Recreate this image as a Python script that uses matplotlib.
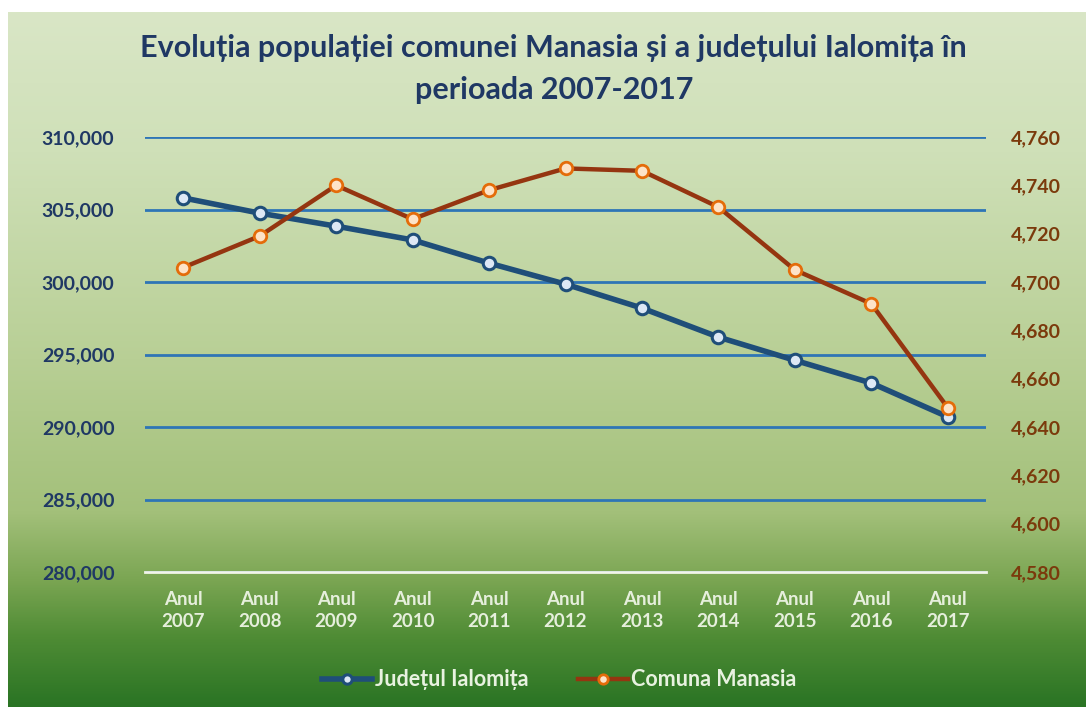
import numpy as np
import matplotlib.pyplot as plt
from matplotlib.colors import LinearSegmentedColormap
from matplotlib.ticker import FuncFormatter

# date
ani = ['2007', '2008', '2009', '2010', '2011', '2012', '2013', '2014', '2015', '2016', '2017']
judet = [305800, 304750, 303850, 302900, 301300, 299850, 298200, 296200, 294600, 293030, 290700]
comuna = [4706, 4719, 4740, 4726, 4738, 4747, 4746, 4731, 4705, 4691, 4648]
etichete = ['Anul\n' + a for a in ani]

plt.rcParams['font.family'] = ['Lato', 'DejaVu Sans']

fig = plt.figure(figsize=(10.86, 7.07), dpi=100, facecolor='white')

# fundal cu gradient
bg = fig.add_axes([8 / 1086, 0, 1 - 8 / 1086, 1 - 12 / 707])
cmap = LinearSegmentedColormap.from_list('verde', [
    (0.0, '#d9e6c6'), (0.2, '#cfe0b8'), (0.5, '#b8cf95'),
    (0.72, '#a3c07a'), (0.82, '#7aa552'), (0.9, '#4f8c35'), (1.0, '#2a7424')])
grad = np.linspace(0, 1, 256).reshape(-1, 1)
bg.imshow(grad, aspect='auto', cmap=cmap, extent=[0, 1, 0, 1])
bg.axis('off')

ax = fig.add_axes([145 / 1086, 1 - 572 / 707, (986 - 145) / 1086, (572 - 137) / 707])
ax.set_facecolor('none')
ax2 = ax.twinx()

x = np.arange(len(ani))
l1, = ax.plot(x, judet, color='#1f4e79', lw=4, marker='o', ms=9,
              mfc='#dde8f5', mec='#1f4e79', mew=2.2, zorder=5, label='Județul Ialomița')
l2, = ax2.plot(x, comuna, color='#953510', lw=3.2, marker='o', ms=9,
               mfc='#fde3c8', mec='#e46c0a', mew=2, zorder=5, label='Comuna Manasia')

ax.set_xlim(-0.5, len(ani) - 0.5)
ax.set_ylim(280000, 310000)
ax.set_yticks(np.arange(280000, 310001, 5000))
ax2.set_ylim(4580, 4760)
ax2.set_yticks(np.arange(4580, 4761, 20))

fmt = FuncFormatter(lambda v, p: f'{int(v):,}')
ax.yaxis.set_major_formatter(fmt)
ax2.yaxis.set_major_formatter(fmt)

ax.set_xticks(x)
ax.set_xticklabels(etichete, color='#e6efdc', fontsize=13.5, fontweight='bold', linespacing=1.35)
ax.tick_params(axis='x', length=0, pad=14)
ax.tick_params(axis='y', length=0, pad=22, labelsize=14, labelcolor='#1f3864')
ax2.tick_params(axis='y', length=0, pad=18, labelsize=14, labelcolor='#7b3a0c')
for t in ax.get_yticklabels() + ax2.get_yticklabels():
    t.set_fontweight('bold')

for a in (ax, ax2):
    for s in a.spines.values():
        s.set_visible(False)
ax.spines['bottom'].set_visible(True)
ax.spines['bottom'].set_color('#f2f5ea')
ax.spines['bottom'].set_linewidth(2)
ax.grid(axis='y', color='#2e75b6', lw=2)
ax.set_axisbelow(True)
ax2.set_zorder(ax.get_zorder() + 1)

fig.text(0.51, 1 - 69 / 707, 'Evoluția populației comunei Manasia și a județului Ialomița în\nperioada 2007-2017',
         ha='center', va='center', fontsize=22, fontweight='bold', color='#1f3864', linespacing=1.6)

fig.legend(handles=[l1, l2], loc='center', bbox_to_anchor=(0.515, 1 - 680 / 707), ncol=2,
           frameon=False, labelcolor='#e8f2e0', handlelength=2.3, handletextpad=0.15,
           columnspacing=2.3, markerscale=0.75, prop={'weight': 'bold', 'size': 15.5})

fig.savefig('out.png', dpi=100, facecolor='white')
